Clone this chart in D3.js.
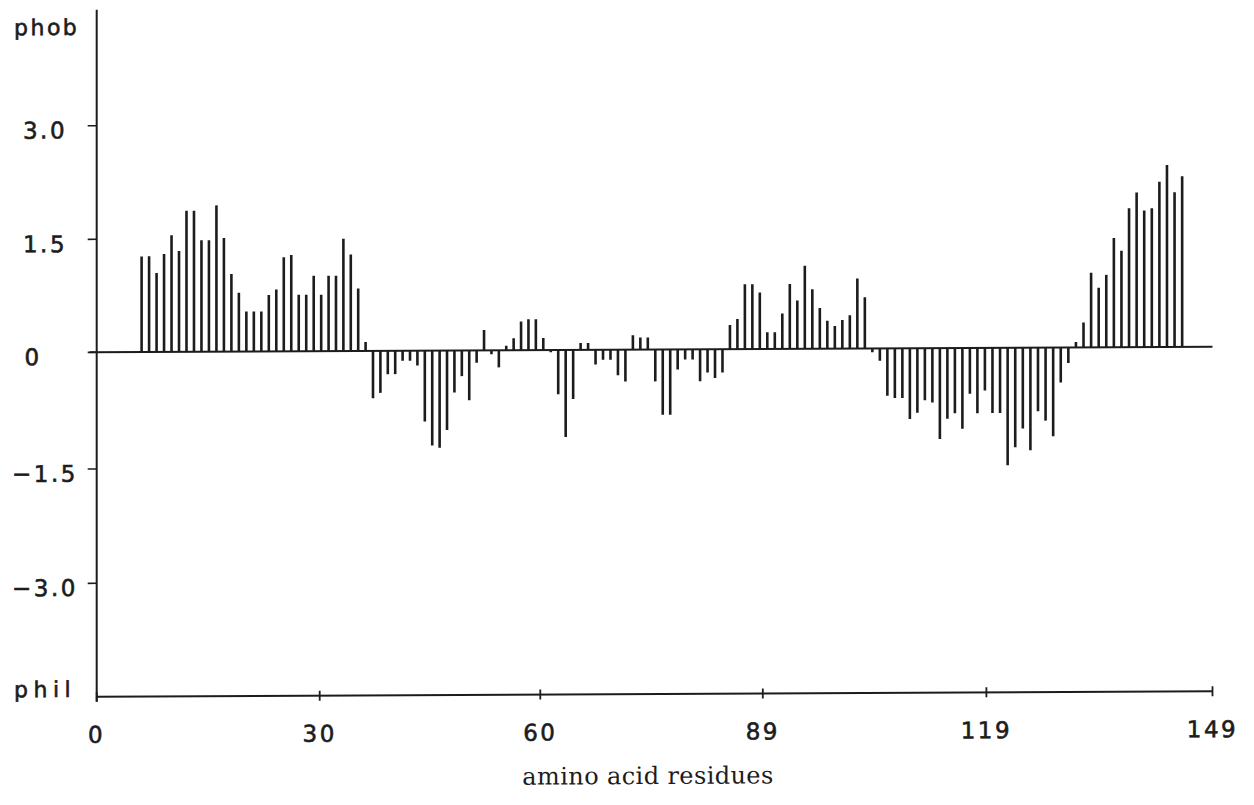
<!DOCTYPE html>
<html><head><meta charset="utf-8">
<script src="https://cdn.jsdelivr.net/npm/d3@7/dist/d3.min.js"></script>
<style>html,body{margin:0;padding:0;background:#fff;} svg{display:block;}</style>
</head><body>
<script>
// ---- data ----
const firstResidue = 6;
const hydropathy = [
  1.27, 1.27, 1.05, 1.30, 1.55, 1.34, 1.87, 1.87, 1.48, 1.48,   // 6-15
  1.94, 1.51, 1.03, 0.78, 0.53, 0.53, 0.53, 0.75, 0.82, 1.25,   // 16-25
  1.28, 0.75, 0.75, 1.00, 0.75, 1.00, 1.00, 1.49, 1.28, 0.83,   // 26-35
  0.12, -0.61, -0.54, -0.30, -0.30, -0.13, -0.13, -0.19, -0.91, -1.22, // 36-45
  -1.25, -1.02, -0.54, -0.33, -0.64, -0.16, 0.27, -0.05, -0.22, 0.06,  // 46-55
  0.16, 0.38, 0.41, 0.41, 0.16, -0.03, -0.57, -1.12, -0.63, 0.09,     // 56-65
  0.09, -0.19, -0.13, -0.13, -0.33, -0.41, 0.19, 0.16, 0.16, -0.41,   // 66-75
  -0.84, -0.84, -0.26, -0.13, -0.13, -0.41, -0.30, -0.37, -0.30, 0.32, // 76-85
  0.40, 0.86, 0.86, 0.75, 0.22, 0.22, 0.47, 0.86, 0.64, 1.10,         // 86-95
  0.79, 0.54, 0.37, 0.30, 0.38, 0.44, 0.93, 0.68, -0.05, -0.16,       // 96-105
  -0.61, -0.64, -0.64, -0.91, -0.83, -0.67, -0.70, -1.17, -0.91, -0.84, // 106-115
  -1.04, -0.59, -0.84, -0.55, -0.84, -0.84, -1.51, -1.28, -1.04, -1.32, // 116-125
  -0.82, -0.94, -1.14, -0.45, -0.20, 0.07, 0.33, 0.99, 0.79, 0.96,     // 126-135
  1.45, 1.28, 1.84, 2.05, 1.81, 1.84, 2.19, 2.41, 2.05, 2.26           // 136-145
];
const xTickValues = [0, 29.8, 59.6, 89.4, 119.2, 149];
const xTickLabels = ["0", "30", "60", "89", "119", "149"];
const yTickValues = [3, 1.5, 0, -1.5, -3];
const yTickLabels = ["3.0", "1.5", "0", "\u22121.5", "\u22123.0"];
const yTopLabel = "phob";
const yBottomLabel = "phil";
const xTitle = "amino acid residues";
const yMax = 4.53, yMin = -4.49;

// ---- layout ----
const W = 1254, H = 805;
const ink = "#1c1c1c";
const svg = d3.select("body").append("svg").attr("width", W).attr("height", H)
  .style("background", "#fff");

// scanned original: slightly non-uniform axes
const x = d3.scaleLinear().domain(xTickValues).range([96.7, 319.7, 540.3, 762.8, 986.4, 1212.5]);
const y = d3.scaleLinear().domain([-3, -1.5, 0, 1.5, 3]).range([583.3, 469, 352.3, 239.3, 125.7]);

const x0 = x(0);
const g = svg.append("g")
  .attr("transform", `translate(${x0},0) skewY(-0.29) translate(${-x0},0)`);

function label(sel, size, spacing) {
  return sel.attr("font-family", "DejaVu Sans, sans-serif").attr("font-size", size)
    .attr("letter-spacing", spacing).attr("fill", ink)
    .attr("stroke", ink).attr("stroke-width", 0.6);
}

// y axis line
g.append("line").attr("x1", x0).attr("x2", x0)
  .attr("y1", y(yMax)).attr("y2", y(yMin) + 5)
  .attr("stroke", ink).attr("stroke-width", 2);

// y ticks
g.selectAll(".ytick").data(yTickValues).join("line")
  .attr("x1", x0 - 9).attr("x2", x0)
  .attr("y1", d => y(d)).attr("y2", d => y(d))
  .attr("stroke", ink).attr("stroke-width", 1.6);

// y tick labels
label(g.selectAll(".ylab").data(yTickValues).join("text")
  .attr("x", d => d === 0 ? 33 : 45).attr("y", d => y(d) + 12.6)
  .attr("text-anchor", "middle"), 23, 2.5)
  .text((d, i) => yTickLabels[i]);

// phob / phil
label(g.append("text").attr("x", 14).attr("y", y(yMax) + 25), 22, 2.5).text(yTopLabel);
label(g.append("text").attr("x", 14).attr("y", y(yMin)), 22, 5.5).text(yBottomLabel);

// zero line
g.append("line").attr("x1", x0 - 7).attr("x2", x(149))
  .attr("y1", y(0)).attr("y2", y(0))
  .attr("stroke", ink).attr("stroke-width", 2);

// x axis line
g.append("line").attr("x1", x0).attr("x2", x(149))
  .attr("y1", y(yMin)).attr("y2", y(yMin))
  .attr("stroke", ink).attr("stroke-width", 2);

// x ticks
g.selectAll(".xtick").data(xTickValues).join("line")
  .attr("x1", d => x(d)).attr("x2", d => x(d))
  .attr("y1", y(yMin) - 5).attr("y2", y(yMin) + 5)
  .attr("stroke", ink).attr("stroke-width", 1.8);

// x tick labels
label(g.selectAll(".xlab").data(xTickValues).join("text")
  .attr("x", d => x(d)).attr("y", y(yMin) + 46)
  .attr("text-anchor", "middle"), 23, 2.5)
  .text((d, i) => xTickLabels[i]);

// bars
g.selectAll(".bar").data(hydropathy).join("line")
  .attr("x1", (d, i) => x(firstResidue + i)).attr("x2", (d, i) => x(firstResidue + i))
  .attr("y1", y(0)).attr("y2", d => y(d))
  .attr("stroke", ink).attr("stroke-width", 2.6);

// x title
g.append("text").attr("x", 648).attr("y", 786.8)
  .attr("text-anchor", "middle")
  .attr("font-family", "DejaVu Serif, serif").attr("font-size", 24)
  .attr("letter-spacing", 0.4)
  .attr("fill", ink).text(xTitle);
</script>
</body></html>
